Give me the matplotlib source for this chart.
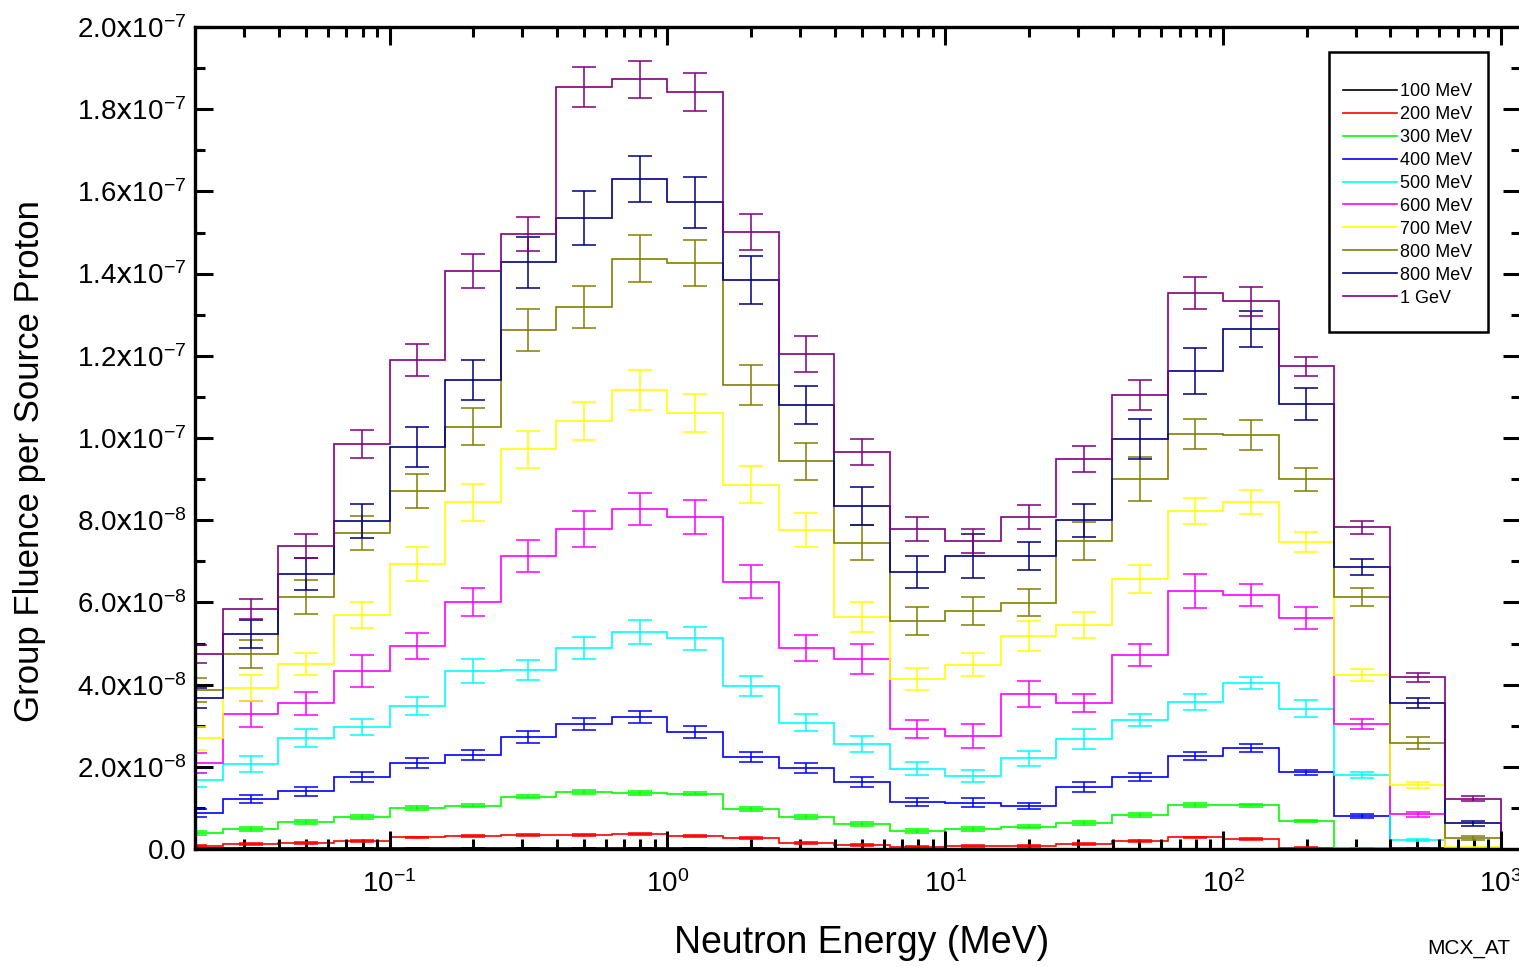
import numpy as np
import matplotlib
matplotlib.use("Agg")
import matplotlib.pyplot as plt
from matplotlib.patches import Rectangle
from matplotlib.ticker import MultipleLocator, FuncFormatter, LogLocator

plt.rcParams["font.family"] = ["Liberation Sans", "DejaVu Sans"]
plt.rcParams["mathtext.default"] = "regular"

# neutron energy group edges (MeV), 0.2 decade groups
energy_edges = np.logspace(-1.8, 3.0, 25)
energy_mid = np.sqrt(energy_edges[:-1] * energy_edges[1:])

labels = ["100 MeV", "200 MeV", "300 MeV", "400 MeV", "500 MeV",
          "600 MeV", "700 MeV", "800 MeV", "800 MeV", "1 GeV"]
colors = ["#000000", "#ff0000", "#00ff00", "#0000ff", "#00ffff",
          "#ff00ff", "#ffff00", "#808000", "#000080", "#800080"]

# group fluence per source proton, units of 1e-8
fl_100 = [0.02, 0.02, 0.02, 0.02, 0.02, 0.02, 0.02, 0.02, 0.02, 0.02, 0.02, 0.01,
          0.01, 0.01, 0.01, 0.01, 0.01, 0.01, 0.01, 0.01, 0.0, 0.0, 0.0, 0.0]
fl_200 = [0.07, 0.12, 0.15, 0.19, 0.28, 0.32, 0.34, 0.34, 0.36, 0.32, 0.27, 0.15,
          0.10, 0.06, 0.07, 0.07, 0.12, 0.20, 0.28, 0.24, 0.02, 0.0, 0.0, 0.0]
fl_300 = [0.39, 0.49, 0.66, 0.78, 1.00, 1.05, 1.27, 1.39, 1.36, 1.35, 0.97, 0.78,
          0.61, 0.44, 0.49, 0.54, 0.63, 0.83, 1.07, 1.06, 0.68, 0.02, 0.0, 0.0]
fl_400 = [0.88, 1.22, 1.41, 1.75, 2.09, 2.29, 2.72, 3.04, 3.21, 2.85, 2.24, 1.97,
          1.63, 1.14, 1.12, 1.05, 1.51, 1.75, 2.26, 2.46, 1.87, 0.80, 0.02, 0.0]
fl_500 = [1.68, 2.07, 2.70, 2.97, 3.48, 4.33, 4.36, 4.89, 5.28, 5.13, 3.97, 3.07,
          2.55, 1.95, 1.78, 2.21, 2.68, 3.14, 3.58, 4.04, 3.41, 1.80, 0.22, 0.0]
fl_600 = [2.09, 3.28, 3.55, 4.33, 4.94, 6.01, 7.13, 7.79, 8.27, 8.08, 6.50, 4.89,
          4.62, 2.92, 2.75, 3.77, 3.55, 4.72, 6.28, 6.18, 5.62, 3.04, 0.85, 0.02]
fl_700 = [2.70, 3.92, 4.50, 5.69, 6.93, 8.44, 9.73, 10.41, 11.17, 10.61, 8.86, 7.76,
          5.64, 4.14, 4.48, 5.18, 5.45, 6.57, 8.22, 8.44, 7.47, 4.23, 1.56, 0.04]
fl_800 = [3.87, 4.74, 6.13, 7.69, 8.71, 10.27, 12.63, 13.19, 14.36, 14.26, 11.29, 9.44,
          7.45, 5.55, 5.79, 5.99, 7.49, 9.00, 10.10, 10.07, 9.00, 6.13, 2.58, 0.27]
fl_900 = [3.67, 5.23, 6.69, 7.98, 9.78, 11.41, 14.28, 15.35, 16.30, 15.74, 13.84, 10.80,
          8.35, 6.74, 7.13, 7.13, 8.00, 9.98, 11.63, 12.65, 10.83, 6.86, 3.55, 0.63]
fl_1000 = [4.74, 5.84, 7.37, 9.85, 11.90, 14.06, 14.96, 18.54, 18.73, 18.42, 15.01, 12.04,
           9.66, 7.79, 7.49, 8.08, 9.49, 11.05, 13.53, 13.33, 11.75, 7.83, 4.18, 1.22]

# one-sigma errors, units of 1e-8
err_100 = [0.0] * 24
err_200 = [0.02] * 24
err_300 = [0.04, 0.04, 0.04, 0.04, 0.04, 0.04, 0.04, 0.04, 0.04, 0.04, 0.04, 0.04,
           0.04, 0.04, 0.04, 0.04, 0.04, 0.04, 0.04, 0.04, 0.03, 0.01, 0.0, 0.0]
err_400 = [0.10, 0.09, 0.11, 0.12, 0.12, 0.13, 0.15, 0.15, 0.15, 0.14, 0.13, 0.13,
           0.12, 0.10, 0.11, 0.07, 0.13, 0.10, 0.09, 0.10, 0.06, 0.05, 0.01, 0.0]
err_500 = [0.17, 0.19, 0.23, 0.20, 0.22, 0.29, 0.24, 0.27, 0.28, 0.28, 0.24, 0.21,
           0.20, 0.16, 0.14, 0.18, 0.25, 0.15, 0.19, 0.15, 0.21, 0.08, 0.03, 0.0]
err_600 = [0.25, 0.32, 0.28, 0.40, 0.32, 0.33, 0.39, 0.43, 0.39, 0.42, 0.40, 0.32,
           0.36, 0.21, 0.29, 0.32, 0.22, 0.26, 0.42, 0.27, 0.26, 0.13, 0.06, 0.01]
err_700 = [0.28, 0.31, 0.27, 0.32, 0.41, 0.45, 0.45, 0.47, 0.49, 0.47, 0.45, 0.41,
           0.36, 0.26, 0.28, 0.36, 0.32, 0.33, 0.32, 0.30, 0.24, 0.15, 0.07, 0.02]
err_800 = [0.30, 0.34, 0.42, 0.42, 0.42, 0.45, 0.52, 0.51, 0.57, 0.56, 0.48, 0.45,
           0.43, 0.35, 0.35, 0.33, 0.46, 0.53, 0.36, 0.36, 0.28, 0.21, 0.14, 0.05]
err_900 = [0.24, 0.34, 0.39, 0.42, 0.48, 0.49, 0.62, 0.65, 0.57, 0.62, 0.58, 0.46,
           0.46, 0.39, 0.53, 0.35, 0.40, 0.48, 0.55, 0.43, 0.38, 0.20, 0.13, 0.06]
err_1000 = [0.22, 0.24, 0.29, 0.34, 0.39, 0.41, 0.41, 0.49, 0.45, 0.47, 0.43, 0.43,
            0.32, 0.29, 0.29, 0.30, 0.31, 0.36, 0.38, 0.35, 0.23, 0.16, 0.11, 0.06]

fluences = [fl_100, fl_200, fl_300, fl_400, fl_500, fl_600, fl_700, fl_800, fl_900, fl_1000]
errors = [err_100, err_200, err_300, err_400, err_500, err_600, err_700, err_800, err_900, err_1000]

fig = plt.figure(figsize=(15.19, 9.67), dpi=100)
ax = fig.add_axes([195 / 1519, 118 / 967, 1326 / 1519, 822 / 967])

for fl, err, col, lab in zip(fluences, errors, colors, labels):
    vals = np.array(fl) * 1e-8
    ax.stairs(vals, energy_edges, color=col, lw=1.2, label=lab)
    ax.errorbar(energy_mid, vals, yerr=np.array(err) * 1e-8, fmt="none",
                ecolor=col, elinewidth=1.1, capsize=8.5, capthick=1.1)

ax.set_xscale("log")
ax.set_xlim(10 ** -1.7, 10 ** 3.072)
ax.set_ylim(0, 2.0e-7)

ax.yaxis.set_major_locator(MultipleLocator(2e-8))
ax.yaxis.set_minor_locator(MultipleLocator(1e-8))
ax.xaxis.set_major_locator(LogLocator(base=10, numticks=20))
ax.xaxis.set_minor_locator(LogLocator(base=10, subs=np.arange(2, 10), numticks=20))


def yfmt(v, pos):
    if abs(v) < 1e-12:
        return "0.0"
    exp = int(np.floor(np.log10(abs(v))))
    mant = v / 10 ** exp
    return r"$%.1f\mathrm{x}10^{%d}$" % (mant, exp)


ax.yaxis.set_major_formatter(FuncFormatter(yfmt))
ax.tick_params(which="both", direction="in", top=True, right=True, width=2.2)
ax.tick_params(which="major", length=13, labelsize=20)
ax.tick_params(which="minor", length=7)
ax.tick_params(axis="x", which="major", pad=15)
ax.tick_params(axis="y", which="major", pad=6)
for sp in ax.spines.values():
    sp.set_linewidth(2.4)

ax.set_ylabel("Group Fluence per Source Proton", fontsize=25)
ax.yaxis.set_label_coords(-0.112, 0.472)
ax.set_xlabel("Neutron Energy (MeV)", fontsize=27)
ax.xaxis.set_label_coords(0.503, -0.093)

leg = fig.legend(loc="upper left", bbox_to_anchor=(1343 / 1519, 1 - 83 / 967),
                 frameon=False, fontsize=13, handlelength=3.0, handletextpad=0.15,
                 labelspacing=0.33, borderpad=0, borderaxespad=0)
for h in leg.get_lines():
    h.set_linewidth(1.2)
fig.patches.append(Rectangle((1329 / 1519, 1 - 332 / 967), 159 / 1519, 280 / 967,
                             transform=fig.transFigure, fill=False, ec="black", lw=1.8))

fig.text(1427 / 1519, 1 - 948 / 967, "MCX_AT", fontsize=15, va="center", ha="left")

fig.savefig("out.png", dpi=100)
